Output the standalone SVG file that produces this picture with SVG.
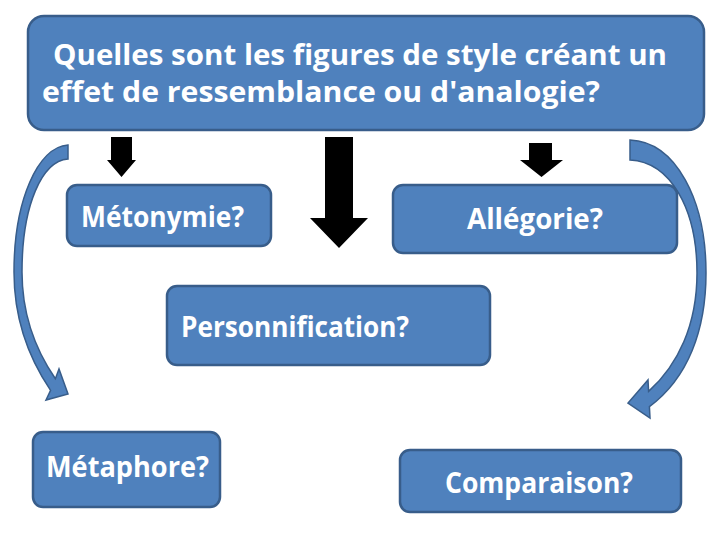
<svg xmlns="http://www.w3.org/2000/svg" width="720" height="540" viewBox="0 0 720 540">
<style>
.box{fill:#4F81BD;stroke:#385D8A;stroke-width:2.5}
.curve{fill:#4F81BD;stroke:#385D8A;stroke-width:1.5;stroke-linejoin:miter}
.blk{fill:#000000}
.t{font-family:"Open Sans","Liberation Sans",sans-serif;font-weight:700;font-size:29px;fill:#FFFFFF}
</style>
<rect width="720" height="540" fill="#FFFFFF"/>
<g id="connectors">
<path class="blk" d="M111 137 H132 V160 H136 L121.5 177 L107 160 H111 Z"/>
<path class="blk" d="M325 137 H353 V218 H368 L339 248 L310 218 H325 Z"/>
<path class="blk" d="M529 143 H552 V160 H563 L541.5 177 L520 160 H529 Z"/>
<path class="curve" d="M68 145 C38 147 14 200 14 272 C14 322 30 360 50.6 390.3 L46 400 L68 394 L59 369 L55.4 378.7 C37 352 22 318 22 272 C22 205 42 161 68 159 Z"/>
<path class="curve" d="M630 140 C676 142 706 200 706 273 C706 330 688 378 649.4 406.6 L650 418 L628 403 L648 380 L648.6 391.4 C678 365 697 325 697 273 C697 208 670 162 630 160 Z"/>
</g>
<g id="question">
<rect class="box" x="28" y="16" width="676" height="114" rx="16"/>
<text class="t" x="53" y="65" textLength="614" lengthAdjust="spacingAndGlyphs">Quelles sont les figures de style créant un</text>
<text class="t" x="42" y="102" textLength="558" lengthAdjust="spacingAndGlyphs">effet de ressemblance ou d'analogie?</text>
</g>
<g id="metonymie">
<rect class="box" x="67" y="185" width="204" height="61" rx="10"/>
<text class="t" x="81" y="227" textLength="163" lengthAdjust="spacingAndGlyphs">Métonymie?</text>
</g>
<g id="allegorie">
<rect class="box" x="393" y="185" width="284" height="68" rx="10"/>
<text class="t" x="467" y="229" textLength="136" lengthAdjust="spacingAndGlyphs">Allégorie?</text>
</g>
<g id="personnification">
<rect class="box" x="167" y="286" width="323" height="79" rx="10"/>
<text class="t" x="181" y="337" textLength="228" lengthAdjust="spacingAndGlyphs">Personnification?</text>
</g>
<g id="metaphore">
<rect class="box" x="33" y="432" width="187" height="75" rx="10"/>
<text class="t" x="46" y="477" textLength="163" lengthAdjust="spacingAndGlyphs">Métaphore?</text>
</g>
<g id="comparaison">
<rect class="box" x="400" y="450" width="281" height="62" rx="10"/>
<text class="t" x="445" y="493" textLength="188" lengthAdjust="spacingAndGlyphs">Comparaison?</text>
</g>
</svg>
